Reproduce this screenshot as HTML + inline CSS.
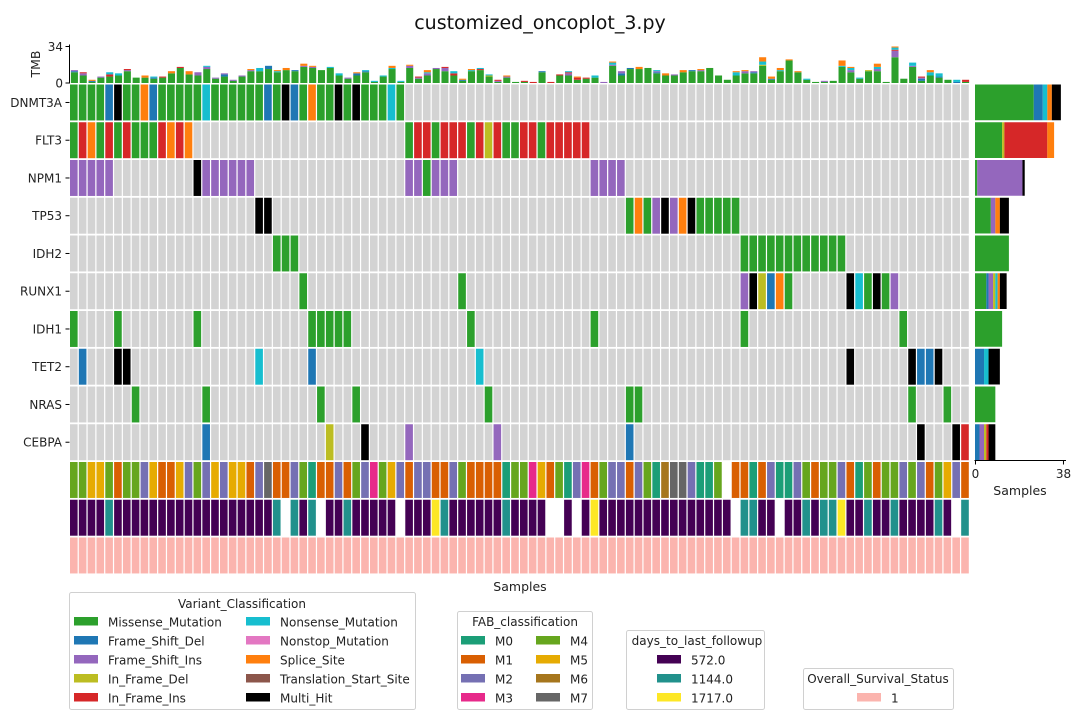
<!DOCTYPE html>
<html><head><meta charset="utf-8">
<style>
html,body{margin:0;padding:0;background:#fff;}
svg{display:block;font-family:"DejaVu Sans","Liberation Sans",sans-serif;}
</style></head>
<body>
<svg id="chart" width="1080" height="720" viewBox="0 0 1080 720" xmlns="http://www.w3.org/2000/svg">
<text x="540" y="29" text-anchor="middle" font-size="19" fill="#111">customized_oncoplot_3.py</text>
<g id="tmb"></g>
<g id="grid"></g>
<g id="annot"></g>
<g id="side"></g>
<g id="legends"></g>
</svg>
<script>
const genes = ["DNMT3A","FLT3","NPM1","TP53","IDH2","RUNX1","IDH1","TET2","NRAS","CEBPA"];
const nSamples = 102;
// runs of [startSample, codes]; M=Missense D=FrameShiftDel I=FrameShiftIns d=InFrameDel i=InFrameIns N=Nonsense n=Nonstop S=Splice T=TranslationStart X=MultiHit
const mutDNMT3A = [[0,"MMMMDXMMSDMMMMMNMMMMMMDMXDMSMMXMXMMMNM"]];
const mutFLT3 = [[0,"MiSMiMiMMMiSiS"],[38,"MiiMiiiMidiMMiiMiiiii"]];
const mutNPM1 = [[0,"IIIII"],[14,"XIIIIII"],[38,"IIMIII"],[59,"IIII"]];
const mutTP53 = [[21,"XX"],[63,"MSMIXISXMMMMM"]];
const mutIDH2 = [[23,"MMM"],[76,"MMMMMMMMMMMM"]];
const mutRUNX1 = [[26,"M"],[44,"M"],[76,"IXdDSM"],[88,"XNMXMI"]];
const mutIDH1 = [[0,"M"],[5,"M"],[14,"M"],[27,"MMMMM"],[45,"M"],[59,"M"],[76,"M"],[94,"M"]];
const mutTET2 = [[1,"D"],[5,"XX"],[21,"N"],[27,"D"],[46,"N"],[88,"X"],[95,"XDDX"]];
const mutNRAS = [[7,"M"],[15,"M"],[28,"M"],[32,"M"],[47,"M"],[63,"MM"],[95,"M"],[99,"M"]];
const mutCEBPA = [[15,"D"],[29,"d"],[33,"X"],[38,"I"],[48,"I"],[63,"D"],[96,"X"],[100,"X"],[101,"i"]];
const geneMutations = [mutDNMT3A,mutFLT3,mutNPM1,mutTP53,mutIDH2,mutRUNX1,mutIDH1,mutTET2,mutNRAS,mutCEBPA];
// TMB per sample
const tmbCounts = ["M10 D1 I1","M7 I2 i1","M1 D1 S1","M5 I1","M6 i2 N2","M7 N2","M11 I1 i1","M5","M5 S2","M4 D1 N1",
"M5 i1","M9 S2","M14 i1","M8 S3","M7 I3","M13 I2 N1","M4 I1","M6 D2 I1","M2 I1","M6 I1",
"M11 I1 S1","M11 N3","M13 D3","M10 N1 S1","M12 S2","M11 D1","M15 I1 S2","M14 I1 S1","M12","M14 N1",
"M7 N2","M4 I1","M7 D2 S1","M10 D1 N1","M1 N1","M6 N1","M13 N1 S2","M1 N1","M14 I2 S1","M4 I1 i1",
"M7 I2 N1 S2","M13 I1","M11 I3 i1","M7 i2 N2","M2 D1 S1","M11 N1 S1","M12 i1 N1","M6 d1 N1","M1 I1 i1","M5 I1 S1",
"M1","M1 i1","i1","M10 D1","i1","M7 i1","M7 I2 i1 N1","M3 i2 S1","M4 i1","M5 N2",
"I1","M16 I1 N2 S1","M7 D2 I2","M13 D1","M13 S2","M14","M9 D1 I1 N1","M7 S2","M7 I1","M10 S2",
"M11 D1","M11 I1 S1","M14","M7","M3","M7 N3 S1","M9 I2 S1","M9 D1 I1","M16 d1 N3 S4","M3 D1 S2",
"M11 N1 S2","M21 S1","M10 S1","M3 N1","M1","M1 I1","M2","M15 N1 S5","M10 I2 N2 S1","M4 N1",
"M11 d1","M11 I2 N2 S3","M1","M24 I6 i1 N2 S1","M4","M15 I1 N3","M2 D2 i1 I1","M7 N3 S2","M5 D1 N3","M3",
"D1 N2","M1 i2"];
const tmbTicks = [0,34];
const fabValues = "4455414425115242525512711240112142345212211241111044351402314221240677200" + "4.1101200241442104" + "14424214521";
const daysValues = "0000100000" + "0000000000" + "0001.101.0" + "0100000.00" + "0210000001" + "0000..0.02" + "0000000000" + "00000.1100" + ".001011200" + "1001000010.1";
const fabLabels = ["M0","M1","M2","M3","M4","M5","M6","M7"];
const daysLabels = ["572.0","1144.0","1717.0"];
const countTicks = [0,38];

const NS = "http://www.w3.org/2000/svg";
const typeOrder = ["M","D","I","d","i","N","n","S","T","X"];
const typeNames = ["Missense_Mutation","Frame_Shift_Del","Frame_Shift_Ins","In_Frame_Del","In_Frame_Ins","Nonsense_Mutation","Nonstop_Mutation","Splice_Site","Translation_Start_Site","Multi_Hit"];
const typeColor = {M:"#2ca02c",D:"#1f77b4",I:"#9467bd",d:"#bcbd22",i:"#d62728",N:"#17becf",n:"#e377c2",S:"#ff7f0e",T:"#8c564b",X:"#000000"};
const fabColor = ["#1b9e77","#d95f02","#7570b3","#e7298a","#66a61e","#e6ab02","#a6761d","#666666"];
const daysColor = ["#440154","#21918c","#fde725"];
const osColor = "#fbb4ae";

const gx0 = 70, gx1 = 970, pitch = (gx1-gx0)/nSamples;
const gy0 = 84.5, rowH = 37.75;
const xS = i => gx0 + pitch*i;
const yRow = r => gy0 + rowH*r;
const tmbY0 = 83, tmbScale = 36.5/34;
const yT = v => tmbY0 - v*tmbScale;
const sx0 = 975, sScale = 2.26;
const xC = v => sx0 + v*sScale;

function el(tag, attrs, parent){ const e=document.createElementNS(NS,tag); for(const k in attrs) e.setAttribute(k,attrs[k]); parent.appendChild(e); return e; }
function parseCounts(s){ const o={}; s.split(" ").forEach(t=>{ if(!t) return; o[t[0]]=(o[t[0]]||0)+parseFloat(t.slice(1)); }); return o; }

// Expand mutation runs
const mutMatrix = geneMutations.map(runs=>{ const row=new Array(nSamples).fill(null); runs.forEach(([s,codes])=>{ for(let k=0;k<codes.length;k++) row[s+k]=codes[k]; }); return row; });

// TMB panel
const tmb = document.getElementById("tmb");
tmbCounts.forEach((s,i)=>{
  const c=parseCounts(s); let acc=0;
  typeOrder.forEach(t=>{ if(!c[t]) return;
    const r=el("rect",{x:(xS(i)+pitch*0.1).toFixed(2),y:yT(acc+c[t]).toFixed(2),width:(pitch*0.8).toFixed(2),height:(c[t]*tmbScale).toFixed(2),fill:typeColor[t]},tmb);
    
    
    acc+=c[t]; });
});
const tAx=el("line",{x1:69.5,y1:yT(34)-2,x2:69.5,y2:tmbY0+0.5,stroke:"#000","stroke-width":1},tmb);


tmbTicks.forEach(v=>{
  const tk=el("line",{x1:65.5,y1:yT(v),x2:69.5,y2:yT(v),stroke:"#000"},tmb);
  
  
  const tl=el("text",{x:63,y:yT(v)+4.5,"text-anchor":"end","font-size":12,fill:"#222"},tmb);
  tl.textContent=v;
  
  
});
const tmbLbl=el("text",{x:0,y:0,transform:"translate(40,64) rotate(-90)","text-anchor":"middle","font-size":12.5,fill:"#222"},tmb);
tmbLbl.textContent="TMB";



// Mutation grid
const grid=document.getElementById("grid");
genes.forEach((g,r)=>{
  for(let i=0;i<nSamples;i++){
    const code=mutMatrix[r][i];
    const c=el("rect",{x:xS(i).toFixed(2),y:yRow(r).toFixed(2),width:(pitch-1.2).toFixed(2),height:(rowH-1.8).toFixed(2),fill:code?typeColor[code]:"#d3d3d3"},grid);
    
    
  }
  const yc=yRow(r)+(rowH-1.8)/2;
  const tk=el("line",{x1:65.5,y1:yc,x2:69.5,y2:yc,stroke:"#000"},grid);
  
  
  const lb=el("text",{x:62,y:yc+4.5,"text-anchor":"end","font-size":12,fill:"#222"},grid);
  lb.textContent=g;
  
  
});

// Annotation rows
const annot=document.getElementById("annot");
for(let i=0;i<nSamples;i++){
  const f=fabValues[i], d=daysValues[i];
  if(f!=="."){ const a=el("rect",{x:xS(i).toFixed(2),y:yRow(10).toFixed(2),width:(pitch-1.2).toFixed(2),height:(rowH-1.8).toFixed(2),fill:fabColor[+f]},annot);
    
     }
  if(d!=="."){ const b=el("rect",{x:xS(i).toFixed(2),y:yRow(11).toFixed(2),width:(pitch-1.2).toFixed(2),height:(rowH-1.8).toFixed(2),fill:daysColor[+d]},annot);
    
     }
  const o=el("rect",{x:xS(i).toFixed(2),y:yRow(12).toFixed(2),width:(pitch-1.2).toFixed(2),height:(rowH-1.8).toFixed(2),fill:osColor},annot);
  
  
}
const xl=el("text",{x:520,y:591,"text-anchor":"middle","font-size":12.5,fill:"#222"},annot);
xl.textContent="Samples";



// Side panel (sample counts per gene)
const side=document.getElementById("side");
genes.forEach((g,r)=>{
  const c={}; mutMatrix[r].forEach(t=>{ if(t) c[t]=(c[t]||0)+1; });
  let acc=0;
  typeOrder.forEach(t=>{ if(!c[t]) return;
    const b=el("rect",{x:xC(acc).toFixed(2),y:yRow(r).toFixed(2),width:(c[t]*sScale).toFixed(2),height:(rowH-2).toFixed(2),fill:typeColor[t]},side);
    
    
    acc+=c[t]; });
});
const sAx=el("line",{x1:974.5,y1:460.5,x2:1066,y2:460.5,stroke:"#000"},side);


countTicks.forEach(v=>{
  const px = v===0 ? 975.5 : 975.5 + v*2.315;
  const tk=el("line",{x1:px,y1:460.5,x2:px,y2:464.5,stroke:"#000"},side);
  
  
  const tl=el("text",{x:px,y:478,"text-anchor":"middle","font-size":12,fill:"#222"},side);
  tl.textContent=v;
  
  
});
const sl=el("text",{x:1020,y:495,"text-anchor":"middle","font-size":12.5,fill:"#222"},side);
sl.textContent="Samples";



// Legends
const L=document.getElementById("legends");
function box(x,y,w,h,name){ const b=el("rect",{x:x+0.5,y:y+0.5,width:w,height:h,rx:2,fill:"#fff",stroke:"#d0d0d0"},L);
  
   }
function title(x,y,t,name){ const e=el("text",{x:x,y:y,"text-anchor":"middle","font-size":12,fill:"#222"},L); e.textContent=t;
  
   }
function entry(px,y,color,label,tx){
  const p=el("rect",{x:px,y:y-9,width:24,height:8.5,fill:color},L);
  
  
  const t=el("text",{x:tx,y:y+0.5,"font-size":12,fill:"#222"},L); t.textContent=label;
  
  
}
box(69,592,346,117,"variant-legend");
title(242,608,"Variant_Classification","variant-legend-title");
typeNames.forEach((n,k)=>{ const col=k<5?0:1, row=k%5;
  entry(col?246:74, 626+19*row, typeColor[typeOrder[k]], n, col?280:108); });
box(457,611,135,98,"fab-legend");
title(525,626,"FAB_classification","fab-legend-title");
fabLabels.forEach((n,k)=>{ const col=k<4?0:1,row=k%4;
  entry(col?536:461, 645+19*row, fabColor[k], n, col?570:495); });
box(626,630,138,79,"followup-legend");
title(697,645,"days_to_last_followup","followup-legend-title");
daysLabels.forEach((n,k)=>{ entry(657,664+19*k,daysColor[k],n,691); });
box(803,668,150,41,"survival-legend");
title(878,683,"Overall_Survival_Status","survival-legend-title");
entry(857,702,osColor,"1",891);
</script>
</body></html>
